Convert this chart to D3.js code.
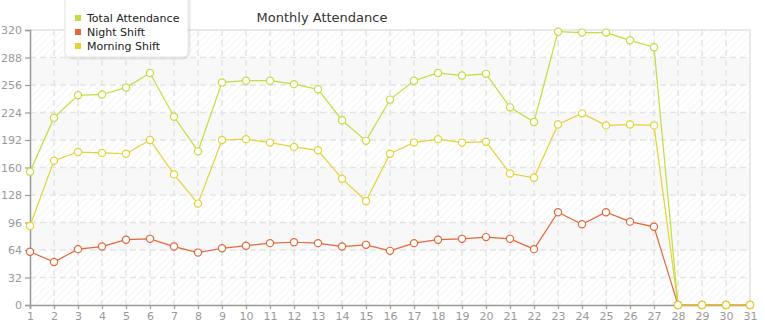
<!DOCTYPE html>
<html>
<head>
<meta charset="utf-8">
<script src="https://cdn.jsdelivr.net/npm/d3@7"></script>
<style>
  body { margin: 0; background: #fff; }
  svg { display: block; font-family: "DejaVu Sans", sans-serif; }
</style>
</head>
<body>
<svg id="grafica"></svg>
<script>
// Asistencia mensual por día
const days = d3.range(1, 32);
const seriesNames = ["Total Attendance", "Night Shift", "Morning Shift"];
const seriesColors = ["#c3dd3e", "#e2683a", "#e2d336"];
const totalAttendance = [155,218,244,245,253,270,219,179,259,261,261,257,251,215,191,239,261,270,267,269,230,213,318,317,317,308,300,0,0,0,0];
const nightShift = [62,50,65,68,76,77,68,61,66,69,72,73,72,68,70,63,72,76,77,79,77,65,108,94,108,97,91,0,0,0,0];
const morningShift = [92,168,178,177,176,192,152,118,192,193,189,184,180,147,121,176,189,193,189,190,153,148,210,223,209,210,209,0,0,0,0];
const yTicks = [0,32,64,96,128,160,192,224,256,288,320];
const chartTitle = "Monthly Attendance";

const svg_w = 765;
const svg_h = 320;
const margin = {l:30, r:15, t:30, b:15};
const viz_w = svg_w - margin.l - margin.r;
const viz_h = svg_h - margin.t - margin.b;

let svg = d3.select("#grafica")
  .attr("width", svg_w)
  .attr("height", svg_h);

let x_scale = d3.scaleLinear()
  .domain([1, 31])
  .range([margin.l, margin.l + viz_w]);

let y_scale = d3.scaleLinear()
  .domain([0, 320])
  .range([margin.t + viz_h, margin.t]);

// patrón rayado del fondo
let defs = svg.append("defs");
let pat = defs.append("pattern")
  .attr("id", "rayas")
  .attr("width", 5)
  .attr("height", 5)
  .attr("patternUnits", "userSpaceOnUse")
  .attr("patternTransform", "rotate(45)");
pat.append("rect").attr("width", 5).attr("height", 5).attr("fill", "#fff");
pat.append("line")
  .attr("x1", 0).attr("y1", 0).attr("x2", 0).attr("y2", 5)
  .attr("stroke", "#efefef").attr("stroke-width", 1.2);

let filter = defs.append("filter").attr("id", "sombra")
  .attr("x", "-10%").attr("y", "-10%").attr("width", "130%").attr("height", "130%");
filter.append("feDropShadow")
  .attr("dx", 1).attr("dy", 1).attr("stdDeviation", 1.2)
  .attr("flood-color", "#000").attr("flood-opacity", 0.18);

svg.append("rect")
  .attr("x", margin.l).attr("y", margin.t)
  .attr("width", viz_w).attr("height", viz_h)
  .attr("fill", "url(#rayas)");

// bandas claras alternas
let bands = yTicks.slice(0, -1).filter((d, i) => i % 2 == 0 && i > 0);
svg.append("g")
  .selectAll("rect")
  .data(bands)
  .enter().append("rect")
  .attr("x", margin.l)
  .attr("y", d => y_scale(d + 32))
  .attr("width", viz_w)
  .attr("height", d => y_scale(d) - y_scale(d + 32))
  .attr("fill", "#f8f8f8");

// borde superior y derecho
svg.append("path")
  .attr("d", `M${margin.l},${margin.t}H${margin.l + viz_w}V${margin.t + viz_h}`)
  .attr("fill", "none")
  .attr("stroke", "#e2e2e2")
  .attr("stroke-width", 1.5);

// rejilla
svg.append("g")
  .selectAll("line")
  .data(yTicks.filter(d => d > 0 && d < 320))
  .enter().append("line")
  .attr("x1", margin.l).attr("x2", margin.l + viz_w)
  .attr("y1", d => y_scale(d)).attr("y2", d => y_scale(d))
  .attr("stroke", "#e4e4e4").attr("stroke-width", 1.5)
  .attr("stroke-dasharray", "6,4");

svg.append("g")
  .selectAll("line")
  .data(days.filter(d => d > 1 && d < 31))
  .enter().append("line")
  .attr("x1", d => x_scale(d)).attr("x2", d => x_scale(d))
  .attr("y1", margin.t).attr("y2", margin.t + viz_h)
  .attr("stroke", "#e4e4e4").attr("stroke-width", 1.5)
  .attr("stroke-dasharray", "6,4");

// ejes
let y_axis = svg.append("g")
  .attr("transform", `translate(${margin.l},0)`)
  .call(d3.axisLeft(y_scale).tickValues(yTicks).tickSize(5).tickPadding(3));

let x_axis = svg.append("g")
  .attr("transform", `translate(0,${margin.t + viz_h})`)
  .call(d3.axisBottom(x_scale).tickValues(days).tickFormat(d3.format("d")).tickSize(4).tickPadding(3));

[y_axis, x_axis].forEach(ax => {
  ax.select(".domain").attr("stroke", "#999").attr("stroke-width", 1.5);
  ax.selectAll(".tick line").attr("stroke", "#999").attr("stroke-width", 1.2);
  ax.selectAll(".tick text")
    .attr("fill", "#999")
    .style("font-size", "11px")
    .style("font-family", "DejaVu Sans, sans-serif");
});

// líneas y puntos
let allSeries = [totalAttendance, nightShift, morningShift];
let line = d3.line()
  .x((d, i) => x_scale(days[i]))
  .y(d => y_scale(d));

allSeries.forEach((values, k) => {
  let g = svg.append("g");
  g.append("path")
    .attr("d", line(values))
    .attr("fill", "none")
    .attr("stroke", seriesColors[k])
    .attr("stroke-width", 1.2);
  g.selectAll("circle")
    .data(values)
    .enter().append("circle")
    .attr("cx", (d, i) => x_scale(days[i]))
    .attr("cy", d => y_scale(d))
    .attr("r", 3.6)
    .attr("fill", "#fff")
    .attr("stroke", seriesColors[k])
    .attr("stroke-width", 1.2);
});

// título
svg.append("text")
  .attr("x", 322)
  .attr("y", 22)
  .attr("text-anchor", "middle")
  .attr("fill", "#333")
  .style("font-size", "13px")
  .text(chartTitle);

// leyenda
let legend = svg.append("g");
legend.append("rect")
  .attr("x", 65).attr("y", -6)
  .attr("width", 123).attr("height", 63)
  .attr("rx", 5)
  .attr("fill", "#fff")
  .attr("stroke", "#e6e6e6")
  .attr("filter", "url(#sombra)");

let items = legend.selectAll("g.item")
  .data(seriesNames)
  .enter().append("g")
  .attr("class", "item")
  .attr("transform", (d, i) => `translate(0,${18 + i * 14})`);

items.append("rect")
  .attr("x", 75).attr("y", -3)
  .attr("width", 6).attr("height", 6)
  .attr("fill", (d, i) => seriesColors[i]);

items.append("text")
  .attr("x", 87).attr("y", 4)
  .attr("fill", "#222")
  .style("font-size", "11px")
  .text(d => d);
</script>
</body>
</html>
